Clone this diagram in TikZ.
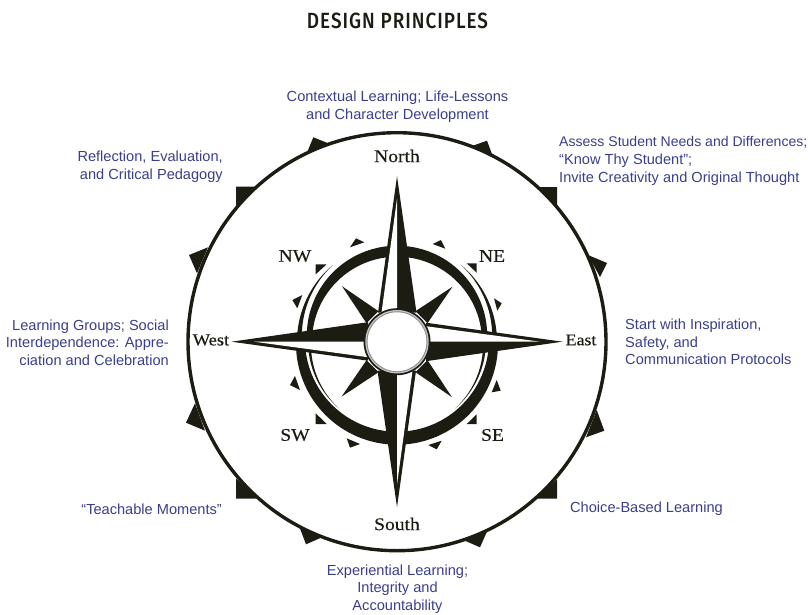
\documentclass[tikz,border=0pt]{standalone}
\usepackage{fontspec}
\setmainfont{Liberation Sans}
\newfontfamily\titlefont[FakeStretch=0.86,LetterSpace=4.5]{Fira Sans Medium}
\newfontfamily\dirfont[FakeBold=0.3,FakeStretch=1.1]{Liberation Serif}
\definecolor{ink}{HTML}{1C1C12}
\definecolor{navy}{HTML}{3A3E8C}
\tikzset{
  principle/.style={text=navy,font=\fontsize{14.6}{17.6}\selectfont,inner sep=0pt},
  dirlabel/.style={text=ink,font=\dirfont\fontsize{17.8}{20}\selectfont,inner sep=0pt},
  solid ink/.style={fill=ink,draw=none},
}
\begin{document}
\begin{tikzpicture}[x=1pt,y=-1pt]
\useasboundingbox (0,0) rectangle (808,614);
\node[text=ink,font=\titlefont\fontsize{22}{24}\selectfont,inner sep=0pt] (title) at (397.5,21) {DESIGN PRINCIPLES};

\begin{scope}[shift={(397,341.7)},y=1pt]
  % outer ring
  \draw[ink,line width=3.4pt] (0,0) circle (209);
  % outer teeth
  \fill[solid ink] (141,154.7)--(160,154.7)--(160,135.7)--cycle;
  \fill[solid ink] (210,78.7)--(191,86.7)--(203,64.7)--cycle;
  \fill[solid ink] (90,201)--(75,195.7)--(96,185)--cycle;
  \fill[solid ink] (-161,155)--(-139.7,155)--(-161,135.7)--cycle;
  \fill[solid ink] (-208,86.7)--(-189,94.4)--(-200,68.4)--cycle;
  \fill[solid ink] (-83.7,204.4)--(-68.7,198.4)--(-90.3,188.4)--cycle;
  \fill[solid ink] (160,-157)--(160,-137.6)--(139.7,-157)--cycle;
  \fill[solid ink] (207.3,-89)--(199.7,-68.3)--(189,-95.6)--cycle;
  \fill[solid ink] (83,-205.6)--(90.7,-188.3)--(64.7,-197.6)--cycle;
  \fill[solid ink] (-161,-157)--(-161,-136.6)--(-139.7,-157)--cycle;
  \fill[solid ink] (-211,-81)--(-202,-61.6)--(-192,-89)--cycle;
  \fill[solid ink] (-91,-202.6)--(-97.7,-185)--(-73.7,-195)--cycle;
  % upper band and thin arcs
  \fill[solid ink] plot[domain=0:180,samples=90] ({(90+6*sin(\x))*cos(\x)},{(90+6*sin(\x))*sin(\x)})
     -- plot[domain=180:0,samples=90] ({85*cos(\x)},{85*sin(\x)}) -- cycle;
  \fill[solid ink] plot[domain=0:50.5,samples=40] ({100*cos(\x)},{100*sin(\x)})
     -- plot[domain=50.5:0,samples=40] ({(95+5*\x/50.5)*cos(\x)},{(95+5*\x/50.5)*sin(\x)}) -- cycle;
  \fill[solid ink] plot[domain=0:50.5,samples=40] ({-100*cos(\x)},{100*sin(\x)})
     -- plot[domain=50.5:0,samples=40] ({-(95+5*\x/50.5)*cos(\x)},{(95+5*\x/50.5)*sin(\x)}) -- cycle;
  % lower band and thin arcs
  \fill[solid ink] plot[domain=0:180,samples=90] ({(101+2*sin(\x))*cos(\x)},{-(101+2*sin(\x))*sin(\x)})
     -- plot[domain=180:0,samples=90] ({(92-2*sin(\x))*cos(\x)},{-(92-2*sin(\x))*sin(\x)}) -- cycle;
  \fill[solid ink] plot[domain=0:49,samples=40] ({(89-0.5*\x/49)*cos(\x)},{-(89-0.5*\x/49)*sin(\x)})
     -- plot[domain=49:0,samples=40] ({(86+2.5*\x/49)*cos(\x)},{-(86+2.5*\x/49)*sin(\x)}) -- cycle;
  \fill[solid ink] plot[domain=0:49,samples=40] ({-(89-0.5*\x/49)*cos(\x)},{-(89-0.5*\x/49)*sin(\x)})
     -- plot[domain=49:0,samples=40] ({-(86+2.5*\x/49)*cos(\x)},{-(86+2.5*\x/49)*sin(\x)}) -- cycle;
  % small triangles
  \fill[solid ink] (-81.3,77.4)--(-70.3,77.4)--(-81.3,67.4)--cycle;
  \fill[solid ink] (-41,103.4)--(-32.7,99.4)--(-47,94.4)--cycle;
  \fill[solid ink] (-94.7,46.7)--(-104.7,41.7)--(-99.7,33.4)--cycle;
  \fill[solid ink] (69.7,78.4)--(79.7,78.4)--(79.7,69)--cycle;
  \fill[solid ink] (44,101.7)--(48.3,93)--(35.7,97.7)--cycle;
  \fill[solid ink] (97,43.4)--(104.7,38.4)--(100.3,31)--cycle;
  \fill[solid ink] (-81.3,-71.6)--(-81.3,-82.3)--(-70.3,-82.3)--cycle;
  \fill[solid ink] (-50.3,-96.6)--(-37,-102.3)--(-47,-106)--cycle;
  \fill[solid ink] (-102,-34.3)--(-107,-43.3)--(-97,-48.3)--cycle;
  \fill[solid ink] (79.7,-72.6)--(79.7,-82.3)--(69.7,-82.3)--cycle;
  \fill[solid ink] (44.7,-99)--(39.7,-107.6)--(31.3,-103.3)--cycle;
  \fill[solid ink] (99.7,-38.3)--(103.7,-49)--(94.7,-50.6)--cycle;
  % diagonal spikes
  \foreach \a in {0,90,180,270}{
    \begin{scope}[rotate=\a]
      \fill[solid ink] (18.5,30.5)--(55.5,55)--(30.5,18.5)--cycle;
    \end{scope}
  }
  % cardinal spikes
  \foreach \a in {0,-90,-180,-270}{
    \begin{scope}[rotate=\a]
      \fill[solid ink] (-19,29)--(0,165.5)--(19.5,29)--cycle;
      \fill[white] (-15.5,29)--(0,143)--(0,29)--cycle;
    \end{scope}
  }
  % hub
  \fill[ink] (0,0) circle (33.5);
  \fill[gray!45] (0,0) circle (31.7);
  \fill[gray!90] (0,0) circle (30.4);
  \fill[white] (0,0) circle (29.4);
\end{scope}

\node[dirlabel] (north) at (397,156) {North};
\node[dirlabel] (south) at (397,524) {South};
\node[dirlabel,anchor=west,font=\dirfont\fontsize{16.8}{20}\selectfont] (west) at (192.5,340) {West};
\node[dirlabel,anchor=west,font=\dirfont\fontsize{16.2}{20}\selectfont] (east) at (565.5,340) {East};
\node[dirlabel] (nw) at (295,256) {NW};
\node[dirlabel] (ne) at (492,256) {NE};
\node[dirlabel] (sw) at (295,435) {SW};
\node[dirlabel] (se) at (492.5,435) {SE};

\node[principle,align=center] (ctx) at (397.5,107) {Contextual Learning; Life-Lessons\\and Character Development};
\node[principle,align=left,anchor=west] (assess) at (559,161) {{\fontsize{14.05}{17.6}\selectfont Assess Student Needs and Differences;}\\“Know Thy Student”;\\Invite Creativity and Original Thought};
\node[principle,align=right,anchor=east] (reflect) at (223,167) {Reflection, Evaluation,\\and Critical Pedagogy};
\node[principle,align=left,anchor=west] (start) at (625,342) {Start with Inspiration,\\Safety, and\\Communication Protocols};
\node[principle,align=right,anchor=east] (groups) at (169,342.5) {Learning Groups; Social\\Interdependence: Appre-\\ciation and Celebration};
\node[principle,anchor=east] (teach) at (222,509) {“Teachable Moments”};
\node[principle,anchor=west] (choice) at (570,509) {Choice-Based Learning};
\node[principle,align=center] (exp) at (397.5,589) {Experiential Learning;\\Integrity and\\Accountability};
\end{tikzpicture}
\end{document}
